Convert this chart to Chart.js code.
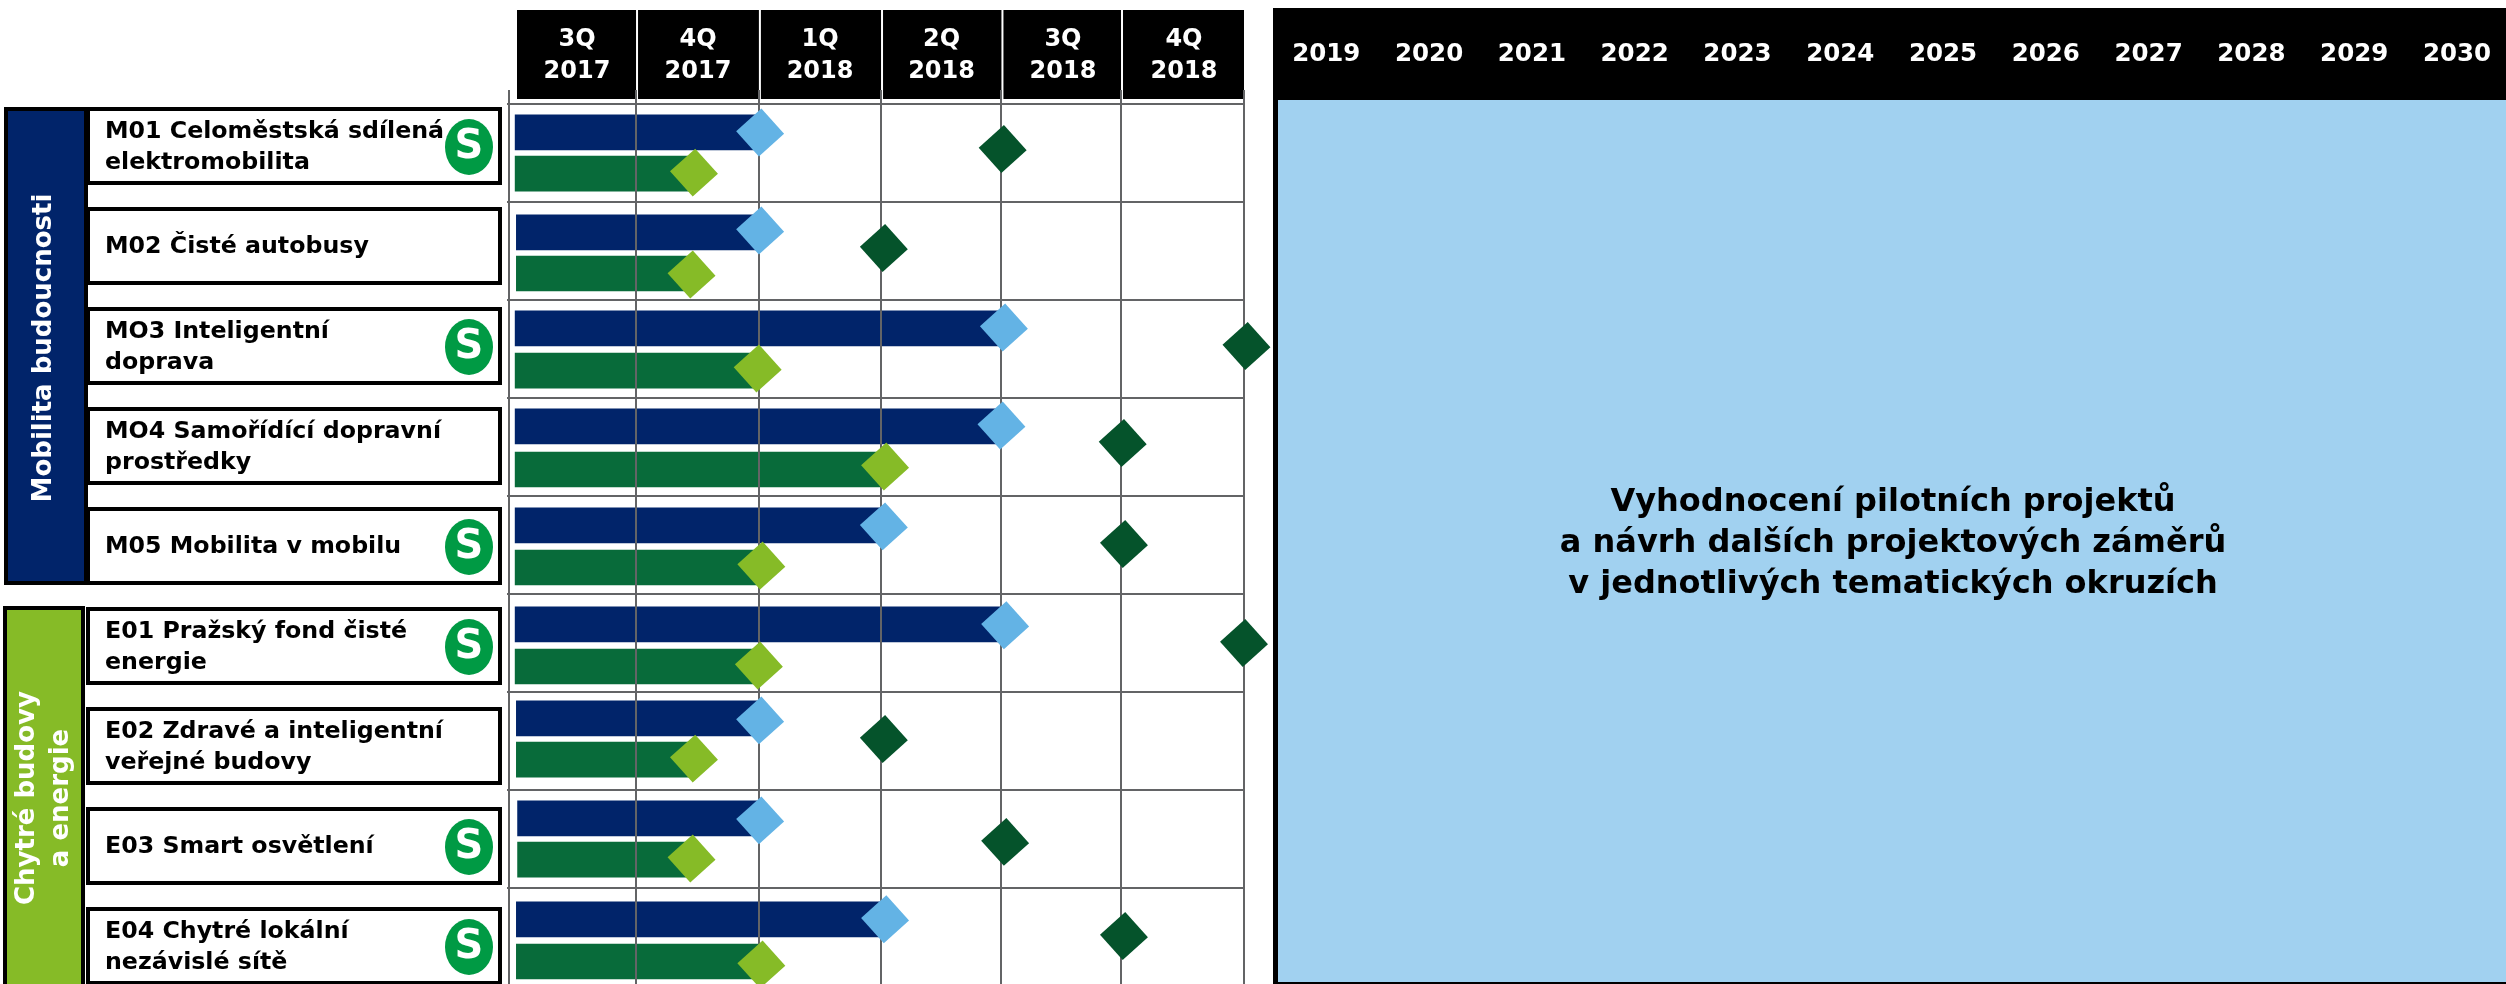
<!DOCTYPE html>
<html lang="cs">
<head>
<meta charset="UTF-8">
<title>Harmonogram projektů</title>
<script src="https://cdn.jsdelivr.net/npm/chart.js@4/dist/chart.umd.min.js"></script>
<style>
  html, body { margin: 0; padding: 0; background: #fff; overflow: hidden; }
  canvas { position: absolute; top: 0; }
</style>
</head>
<body>
<canvas id="plan" width="1273" height="984" style="left:0"></canvas>
<canvas id="later" width="1233" height="984" style="left:1273px"></canvas>

<script>
// quarters, on a scale where 0 = start of 3Q 2017
const quarterLabels = [['3Q','2017'],['4Q','2017'],['1Q','2018'],['2Q','2018'],['3Q','2018'],['4Q','2018']];
const quarterEdges = [0, 1.037, 2.04, 3.037, 4.02, 4.996, 6];
const quarterCentres = [0.555, 1.543, 2.539, 3.531, 4.522, 5.51];

const projects = [
  ['M01 Celoměstská sdílená','elektromobilita'],
  'M02 Čisté autobusy',
  ['MO3 Inteligentní','doprava'],
  ['MO4 Samořídící dopravní','prostředky'],
  'M05 Mobilita v mobilu',
  ['E01 Pražský fond čisté','energie'],
  ['E02 Zdravé a inteligentní','veřejné budovy'],
  'E03 Smart osvětlení',
  ['E04 Chytré lokální','nezávislé sítě']
];
const hasSmartBadge = [true, false, true, false, true, true, false, true, true];

const barStart = [0.05, 0.06, 0.05, 0.05, 0.05, 0.05, 0.06, 0.07, 0.06];
const navyEnd = [2.05, 2.05, 4.04, 4.02, 3.06, 4.05, 2.05, 2.05, 3.07];
const greenEnd = [1.51, 1.49, 2.03, 3.07, 2.06, 2.04, 1.51, 1.49, 2.06];
const darkMilestone = [4.03, 3.06, 6.02, 5.01, 5.02, 6.0, 3.06, 4.05, 5.02];

// vertical place inside the rows (row n runs from n to n+1)
const navyRow = [0.29, 1.31, 2.29, 3.29, 4.30, 5.31, 6.27, 7.29, 8.32];
const greenRow = [0.71, 1.73, 2.72, 3.73, 4.73, 5.74, 6.69, 7.71, 8.75];
const blueDiamondRow = [0.29, 1.29, 2.28, 3.28, 4.31, 5.32, 6.29, 7.31, 8.32];
const limeDiamondRow = [0.70, 1.74, 2.70, 3.70, 4.71, 5.73, 6.68, 7.70, 8.78];
const darkDiamondRow = [0.46, 1.47, 2.47, 3.46, 4.49, 5.50, 6.48, 7.53, 8.49];

const years = [2019, 2020, 2021, 2022, 2023, 2024, 2025, 2026, 2027, 2028, 2029, 2030];
const laterText = ['Vyhodnocení pilotních projektů', 'a návrh dalších projektových záměrů', 'v jednotlivých tematických okruzích'];

const FONT = '"DejaVu Sans"';
const GRID = '#636466';

function diamonds(xs, ys, color) {
  return {
    type: 'scatter',
    data: xs.map((x, i) => ({ x: x, y: ys[i] })),
    backgroundColor: color,
    pointStyle: 'rectRot',
    pointRadius: 24,
    pointRotation: 3,
    pointBorderWidth: 0,
    clip: false
  };
}
function bars(ends, ys, color) {
  return {
    type: 'bar',
    indexAxis: 'y',
    data: ends.map((e, i) => ({ x: [barStart[i], e], y: ys[i] })),
    backgroundColor: color,
    barThickness: 35,
    grouped: false
  };
}
// tick labels must not push the plot area in
function noPadding(s) {
  s.paddingLeft = s.paddingRight = s.paddingTop = s.paddingBottom = 0;
}

// everything around the grid: header boxes, project boxes, group panels, badges
const planFrame = {
  id: 'planFrame',
  beforeDraw(chart) {
    const c = chart.ctx, x = chart.scales.x, lab = chart.scales.yLabels;
    c.save();
    c.fillStyle = '#000';
    quarterLabels.forEach((q, i) => {
      const l = x.getPixelForValue(quarterEdges[i]) + (i ? 2 : 8);
      c.fillRect(l, 10, x.getPixelForValue(quarterEdges[i + 1]) - l, 89);
    });

    c.strokeStyle = '#000';
    c.lineWidth = 4;
    c.fillStyle = '#01246a';
    c.fillRect(6, 109, 80, 474);
    c.strokeRect(6, 109, 80, 474);
    c.fillStyle = '#86bb27';
    c.fillRect(5, 608, 78, 378);
    c.strokeRect(5, 608, 78, 378);

    c.fillStyle = '#fff';
    projects.forEach((p, i) => {
      const mid = lab.getPixelForValue(i);
      c.fillRect(88, mid - 38, 412, 74);
      c.strokeRect(88, mid - 38, 412, 74);
    });

    c.textAlign = 'center';
    c.textBaseline = 'middle';
    c.font = 'bold 26px ' + FONT;
    c.fillStyle = '#fff';
    rotated(c, 'Mobilita budoucnosti', 44, 348);
    rotated(c, 'Chytré budovy', 27, 798);
    rotated(c, 'a energie', 61, 798);
    c.restore();
  },
  afterDraw(chart) {
    const c = chart.ctx, lab = chart.scales.yLabels;
    c.save();
    projects.forEach((p, i) => {
      if (!hasSmartBadge[i]) return;
      const mid = lab.getPixelForValue(i);
      c.fillStyle = '#009a44';
      c.beginPath();
      c.ellipse(469, mid, 24, 28, 0, 0, Math.PI * 2);
      c.fill();
      c.fillStyle = '#fff';
      c.font = 'bold 40px ' + FONT;
      c.textAlign = 'center';
      c.textBaseline = 'middle';
      c.fillText('S', 469, mid + 1);
    });
    c.restore();
  },
  // grid runs over the bars but under the diamonds
  afterDatasetDraw(chart, args) {
    if (args.index === 3) chart.scales.x.drawGrid(chart.chartArea);
  }
};
function rotated(c, text, x, y) {
  c.save();
  c.translate(x, y);
  c.rotate(-Math.PI / 2);
  c.fillText(text, 0, 0);
  c.restore();
}

new Chart(document.getElementById('plan'), {
  type: 'bar',
  data: {
    datasets: [
      diamonds(darkMilestone, darkDiamondRow, '#05532b'),
      diamonds(greenEnd, limeDiamondRow, '#86bb27'),
      diamonds(navyEnd, blueDiamondRow, '#63b3e5'),
      bars(greenEnd, greenRow, '#086b3a'),
      bars(navyEnd, navyRow, '#01246a')
    ]
  },
  options: {
    responsive: false,
    animation: false,
    layout: { autoPadding: false, padding: { left: 105, right: 29, top: 10, bottom: 0 } },
    plugins: { legend: { display: false }, tooltip: { enabled: false } },
    scales: {
      x: {
        type: 'linear', position: 'top', min: 0, max: 6, weight: 0, offset: false,
        afterBuildTicks: s => { s.ticks = quarterEdges.map(v => ({ value: v })); },
        afterFit: s => { s.height = 0; noPadding(s); },
        ticks: { display: false },
        border: { display: false },
        grid: { offset: false, color: GRID, tickColor: GRID, lineWidth: 2, tickLength: 14 }
      },
      xHead: {
        type: 'linear', position: 'top', min: 0, max: 6, weight: 1, offset: false,
        afterBuildTicks: s => { s.ticks = quarterCentres.map(v => ({ value: v })); },
        afterFit: s => { s.height = 94; noPadding(s); },
        border: { display: false },
        grid: { display: false },
        ticks: {
          autoSkip: false, maxRotation: 0, padding: 9, color: '#fff',
          font: { family: FONT, weight: 'bold', size: 24, lineHeight: 1.3 },
          callback: (v, i) => quarterLabels[i]
        }
      },
      y: {
        type: 'linear', position: 'left', reverse: true, min: 0, max: 8.98, weight: 0, offset: false,
        afterBuildTicks: s => { s.ticks = projects.map((p, i) => ({ value: i })); },
        afterFit: s => { s.width = 0; noPadding(s); },
        ticks: { display: false },
        border: { display: false },
        grid: { offset: false, color: GRID, tickColor: GRID, lineWidth: 2, tickLength: 2 }
      },
      yLabels: {
        type: 'linear', position: 'left', reverse: true, min: -0.43, max: 8.37, weight: 1, offset: false,
        afterBuildTicks: s => { s.ticks = projects.map((p, i) => ({ value: i })); },
        afterFit: s => { s.width = 404; noPadding(s); },
        border: { display: false },
        grid: { display: false, drawTicks: false },
        ticks: {
          autoSkip: false, crossAlign: 'far', color: '#000',
          font: { family: FONT, weight: 'bold', size: 23.7, lineHeight: 1.3 },
          callback: (v, i) => projects[i]
        }
      }
    }
  },
  plugins: [planFrame]
});

// right part: 2019-2030 block
const xMin = 2018.53, xMax = 2030.477;
const laterFrame = {
  id: 'laterFrame',
  beforeDraw(chart) {
    const c = chart.ctx;
    c.save();
    c.fillStyle = '#000';
    c.fillRect(0, 8, 1233, 92);
    c.fillRect(0, 8, 5, 976);
    c.fillRect(0, 982, 1233, 2);
    c.restore();
  },
  afterDraw(chart) {
    const c = chart.ctx, a = chart.chartArea;
    c.save();
    c.fillStyle = '#000';
    c.font = 'bold 32px ' + FONT;
    c.textAlign = 'center';
    c.textBaseline = 'middle';
    laterText.forEach((t, i) => c.fillText(t, (a.left + a.right) / 2 + 1, 503 + i * 41));
    c.restore();
  }
};
new Chart(document.getElementById('later'), {
  type: 'bar',
  data: {
    labels: [''],
    datasets: [{ data: [[xMin, xMax]], backgroundColor: '#a1d1f0', categoryPercentage: 1, barPercentage: 1 }]
  },
  options: {
    indexAxis: 'y',
    responsive: false,
    animation: false,
    layout: { padding: { left: 5, right: 0, top: 8, bottom: 2 } },
    plugins: { legend: { display: false }, tooltip: { enabled: false } },
    scales: {
      x: {
        type: 'linear', position: 'top', min: xMin, max: xMax, offset: false,
        afterBuildTicks: s => { s.ticks = years.map(v => ({ value: v })); },
        afterFit: s => { s.height = 92; noPadding(s); },
        border: { display: false },
        grid: { display: false, offset: false },
        ticks: {
          autoSkip: false, maxRotation: 0, padding: 23, color: '#fff',
          font: { family: FONT, weight: 'bold', size: 24.5 },
          callback: (v, i) => String(years[i])
        }
      },
      y: { type: 'category', display: false, offset: true, grid: { offset: true } }
    }
  },
  plugins: [laterFrame]
});
</script>
</body>
</html>
